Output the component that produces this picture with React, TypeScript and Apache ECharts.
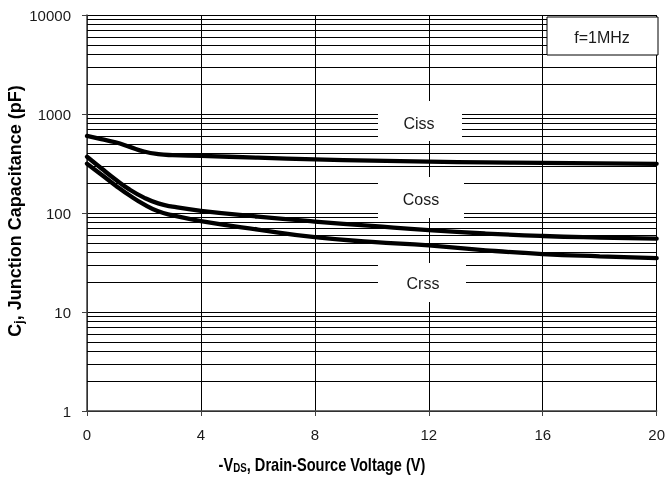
import React, { useEffect, useRef } from "react";
import * as echarts from "echarts";

// Drain-source voltage (V)
const vds = [0, 0.5, 1, 1.5, 2, 2.5, 3, 4, 6, 8, 10, 12, 14, 16, 18, 20];
// Capacitances (pF)
const ciss = [600, 558, 518, 466, 418, 393, 384, 378, 362, 348, 338, 330, 325, 321, 317, 314];
const coss = [370, 283, 218, 172, 143, 125, 116, 105, 92, 82, 74, 67, 62, 58.6, 56.5, 55];
const crss = [315, 245, 190, 150, 122, 104, 95, 83, 68, 57, 51, 47, 42, 38.5, 36.5, 35];

const xTicks = [0, 4, 8, 12, 16, 20];
const yDecades = [1, 10, 100, 1000, 10000];
const minorGrid = [
  2, 3, 4, 5, 6, 7, 8, 9,
  20, 30, 40, 50, 60, 70, 80, 90,
  200, 300, 400, 500, 600, 700, 800, 900,
  2000, 3000, 4000, 5000, 6000, 7000, 8000, 9000,
];

const seriesNames = ["Ciss", "Coss", "Crss"];
const seriesValues = [ciss, coss, crss];

const boldFont = '"Liberation Sans", Arial, sans-serif';
const labelFont = '"Liberation Sans", Arial, sans-serif';

export default function App() {
  const ref = useRef<HTMLDivElement>(null);

  useEffect(() => {
    if (!ref.current) return;
    const chart = echarts.init(ref.current, null, { renderer: "svg" });

    const series: any[] = seriesValues.map((vals, si) => ({
      name: seriesNames[si],
      type: "line",
      data: vds.map((x, i) => [x, vals[i]]),
      smooth: 0.5,
      symbol: "none",
      lineStyle: { color: "#000", width: 4.3, cap: "round", join: "round" },
      z: 5,
    }));

    series.push({
      name: "grid",
      type: "line",
      data: [],
      silent: true,
      z: 1,
      markLine: {
        silent: true,
        symbol: "none",
        label: { show: false },
        lineStyle: { color: "#000", width: 1, type: "solid" },
        data: minorGrid.map((v) => ({ yAxis: v })),
      },
    });

    const boxText = (x: number, y: number, w: number, h: number, text: string, tx: number, ty: number) => ({
      type: "group",
      z: 100,
      children: [
        { type: "rect", shape: { x, y, width: w, height: h }, style: { fill: "#fff" }, z: 100 },
        {
          type: "text",
          x: tx,
          y: ty,
          z: 101,
          style: { text, fill: "#1a1a1a", font: `16px ${labelFont}`, align: "center", verticalAlign: "middle" },
        },
      ],
    });

    const richTitle = {
      b: { fontFamily: boldFont, fontWeight: "bold", fontSize: 18, fill: "#000", lineHeight: 20 },
      s: { fontFamily: boldFont, fontWeight: "bold", fontSize: 12, fill: "#000", lineHeight: 20, padding: [8, 0, 0, 0] },
    };

    chart.setOption({
      animation: false,
      grid: { left: 87, right: 9, top: 15, bottom: 67 },
      xAxis: {
        type: "value",
        min: 0,
        max: 20,
        interval: 4,
        axisLine: { show: true, lineStyle: { color: "#404040", width: 1.5 } },
        axisTick: { show: true, length: 5, lineStyle: { color: "#404040" } },
        axisLabel: {
          color: "#1a1a1a",
          fontSize: 15,
          fontFamily: labelFont,
          margin: 16,
          customValues: xTicks,
        },
        splitLine: { show: true, lineStyle: { color: "#000", width: 1 } },
      },
      yAxis: {
        type: "log",
        logBase: 10,
        min: 1,
        max: 10000,
        axisLine: { show: true, lineStyle: { color: "#404040", width: 1.5 } },
        axisTick: { show: true, length: 5, lineStyle: { color: "#404040" } },
        axisLabel: {
          color: "#1a1a1a",
          fontSize: 15,
          fontFamily: labelFont,
          margin: 16,
          formatter: (v: number) => (yDecades.includes(Math.round(v)) ? String(Math.round(v)) : ""),
        },
        splitLine: { show: true, lineStyle: { color: "#000", width: 1 } },
      },
      series,
      graphic: [
        boxText(378, 101, 84, 40, "Ciss", 419, 123),
        boxText(378, 177, 86, 41, "Coss", 421, 199),
        boxText(378, 263, 88, 39, "Crss", 423, 283),
        {
          type: "group",
          z: 100,
          children: [
            {
              type: "rect",
              shape: { x: 547, y: 17, width: 111, height: 38 },
              style: { fill: "#fff", stroke: "#000", lineWidth: 1 },
              z: 100,
            },
            {
              type: "text",
              x: 602,
              y: 37,
              z: 101,
              style: { text: "f=1MHz", fill: "#1a1a1a", font: `16px ${labelFont}`, align: "center", verticalAlign: "middle" },
            },
          ],
        },
        {
          type: "text",
          x: 322,
          y: 464,
          scaleX: 0.81,
          z: 100,
          style: {
            text: "{b|-V}{s|DS}{b|, Drain-Source Voltage (V)}",
            align: "center",
            verticalAlign: "middle",
            rich: richTitle,
          },
        },
        {
          type: "text",
          x: 15,
          y: 211,
          rotation: Math.PI / 2,
          z: 100,
          style: {
            text: "{b|C}{s|j}{b|, Junction Capacitance (pF)}",
            align: "center",
            verticalAlign: "middle",
            rich: richTitle,
          },
        },
      ],
    });

    return () => chart.dispose();
  }, []);

  return (
    <div
      ref={ref}
      style={{ position: "fixed", left: 0, top: 0, width: 668, height: 478 }}
    />
  );
}
